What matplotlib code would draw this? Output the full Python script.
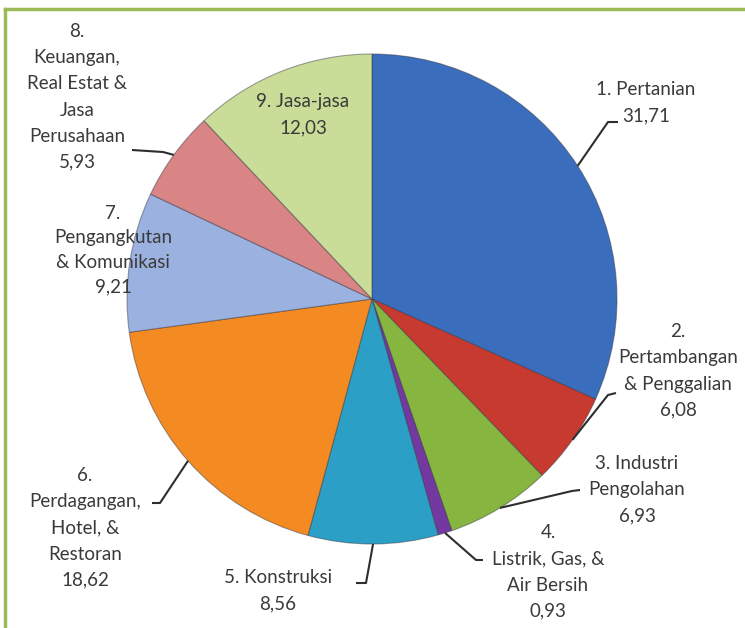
import numpy as np
import matplotlib
matplotlib.use("Agg")
import matplotlib.pyplot as plt
from matplotlib.lines import Line2D

# ---- data ----
names = ["1. Pertanian", "2.\nPertambangan\n& Penggalian", "3. Industri\nPengolahan",
         "4.\nListrik, Gas, &\nAir Bersih", "5. Konstruksi",
         "6.\nPerdagangan,\nHotel, &\nRestoran", "7.\nPengangkutan\n& Komunikasi",
         "8.\nKeuangan,\nReal Estat &\nJasa\nPerusahaan", "9. Jasa-jasa"]
values = [31.71, 6.08, 6.93, 0.93, 8.56, 18.62, 9.21, 5.93, 12.03]

# ---- styles / layout ----
colors = ["#3b6dbd", "#c63a30", "#86b540", "#7439a0", "#2b9fc6",
          "#f48b22", "#9bb2e0", "#d98585", "#c9dc98"]
W, H = 745, 628
label_pos = [(646, 103), (678, 371), (637, 490), (548, 572), (278, 591),
             (85, 528), (113, 250), (77, 97), (303, 115)]
line_sp = [1.65, 1.65, 1.65, 1.65, 1.65, 1.65, 1.52, 1.65, 1.65]
# leader-line elbows (pixels); None = no leader
leaders = [[(608, 122), (618, 122)],
           [(608, 395), (616, 393)],
           [(572, 491), (580, 490)],
           [(476, 560), (483, 560)],
           [(366, 583), (356, 583)],
           [(160, 503), (152, 503)],
           None,
           [(163, 152), (132, 150)],
           None]

plt.rcParams['font.family'] = ['Lato', 'DejaVu Sans']

fig = plt.figure(figsize=(W / 100, H / 100), dpi=100)
ax = fig.add_axes([0, 0, 1, 1])

cx, cy, R = 372, 299, 245
center = (cx, H - cy)
wedges, _ = ax.pie(values, colors=colors, startangle=90, counterclock=False,
                   center=center, radius=R, frame=True,
                   wedgeprops=dict(edgecolor=(0.2, 0.2, 0.25, 0.45), linewidth=0.8))
ax.set_xlim(0, W)
ax.set_ylim(0, H)
ax.set_aspect('equal')
ax.axis('off')

def fmt(v):
    return f"{v:.2f}".replace('.', ',')

for i, (w, name, v) in enumerate(zip(wedges, names, values)):
    lx, ly = label_pos[i]
    ax.text(lx, H - ly, name + "\n" + fmt(v), ha='center', va='center',
            fontsize=13.5, color='#3a3a3a', linespacing=line_sp[i], zorder=5)
    if leaders[i] is not None:
        th = np.deg2rad((w.theta1 + w.theta2) / 2)
        sx = center[0] + R * np.cos(th)
        sy = center[1] + R * np.sin(th)
        xs = [sx] + [p[0] for p in leaders[i]]
        ys = [sy] + [H - p[1] for p in leaders[i]]
        ax.plot(xs, ys, color='#2e2e2e', lw=1.5, zorder=4, solid_capstyle='butt')

# green frame (top and left visible)
fig.add_artist(Line2D([5 / W, 1], [1 - 9 / H, 1 - 9 / H], color='#9bbb59', lw=2.5,
                      transform=fig.transFigure))
fig.add_artist(Line2D([5 / W, 5 / W], [0, 1 - 9 / H], color='#9bbb59', lw=2.5,
                      transform=fig.transFigure))

fig.savefig("out.png", dpi=100, facecolor='white')
